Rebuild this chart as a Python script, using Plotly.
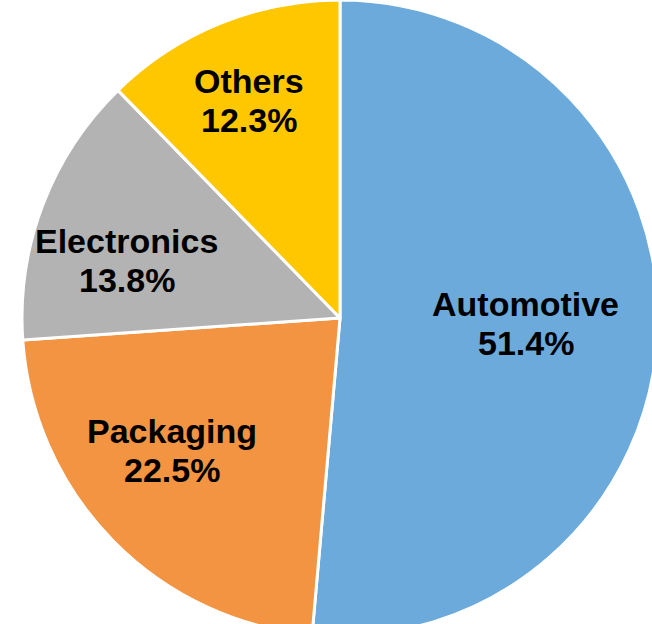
import math
import plotly.graph_objects as go

# Market share by application segment (%)
segments = ["Automotive", "Packaging", "Electronics", "Others"]
shares = [51.4, 22.5, 13.8, 12.3]
slice_colors = ["#6CAADC", "#F29442", "#B3B3B3", "#FFC700"]

# Label placement inside each slice: radius as a fraction of the pie radius,
# and a small angular nudge (degrees) away from the slice's mid-angle.
label_radius = [0.584, 0.672, 0.695, 0.742]
label_nudge = [-0.8, 6.3, -5.9, -0.6]

FIG_W, FIG_H = 680, 636
PIE_R = min(FIG_W, FIG_H) / 2
FONT = "Liberation Sans, Arial, sans-serif"
FONT_SIZE = 34
LINE_GAP = 39  # baseline-to-baseline spacing between name and percentage

fig = go.Figure(
    go.Pie(
        labels=segments,
        values=shares,
        sort=False,
        direction="clockwise",
        rotation=0,
        marker=dict(colors=slice_colors, line=dict(color="#FFFFFF", width=3)),
        textinfo="none",
        hoverinfo="label+value",
        showlegend=False,
        domain=dict(x=[0, 1], y=[0, 1]),
    )
)

# Place a two-line label (name / percentage) in each slice, computed from
# the cumulative share so each sits within its own wedge.
total = sum(shares)
start = 0.0
annotations = []
for name, val, frac, nudge in zip(segments, shares, label_radius, label_nudge):
    mid = (start + val / 2) / total * 360.0 + nudge
    start += val
    theta = math.radians(mid)
    px = 0.5 + frac * PIE_R * math.sin(theta) / FIG_W
    py = 0.5 + frac * PIE_R * math.cos(theta) / FIG_H
    for text, shift in ((f"<b>{name}</b>", LINE_GAP / 2), (f"<b>{val:.1f}%</b>", -LINE_GAP / 2)):
        annotations.append(
            dict(
                x=px,
                y=py,
                xref="paper",
                yref="paper",
                xanchor="center",
                yanchor="middle",
                yshift=shift,
                text=text,
                showarrow=False,
                font=dict(family=FONT, size=FONT_SIZE, color="#000000"),
            )
        )

fig.update_layout(
    width=FIG_W,
    height=FIG_H,
    margin=dict(l=0, r=0, t=0, b=0),
    paper_bgcolor="#FFFFFF",
    plot_bgcolor="#FFFFFF",
    annotations=annotations,
)

fig.write_html(
    "out.html",
    post_script="document.documentElement.style.overflow='hidden';document.body.style.overflow='hidden';",
)
